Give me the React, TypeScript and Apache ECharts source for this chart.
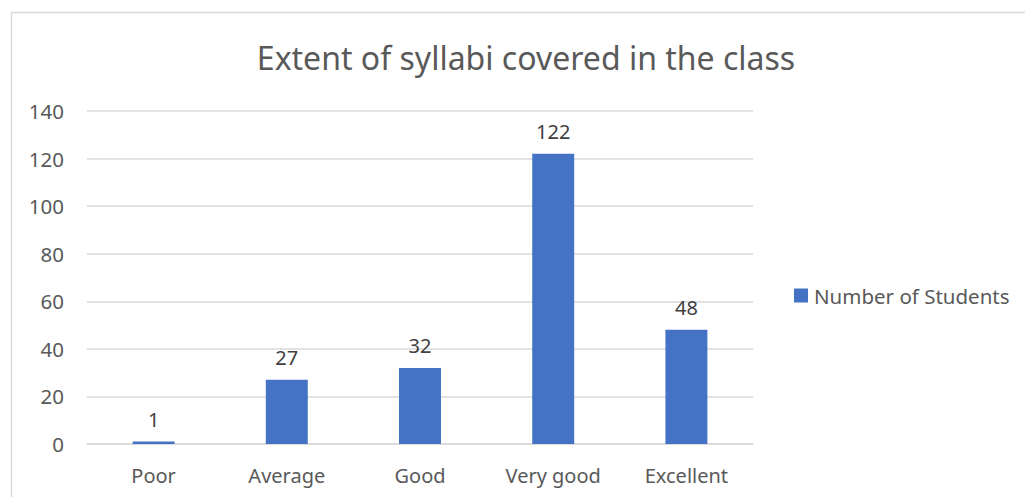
import React, { useEffect, useRef } from "react";
import * as echarts from "echarts";

const categories = ["Poor", "Average", "Good", "Very good", "Excellent"];
const studentCounts = [1, 27, 32, 122, 48];
const seriesName = "Number of Students";
const titleText = "Extent of syllabi covered in the class";
const yMin = 0;
const yMax = 140;
const yStep = 20;

const FONT = "'Noto Sans', sans-serif";

export default function App() {
  const ref = useRef<HTMLDivElement>(null);
  useEffect(() => {
    if (!ref.current) return;
    const chart = echarts.init(ref.current, null, { renderer: "svg" });
    chart.setOption({
      animation: false,
      backgroundColor: "#ffffff",
      textStyle: { fontFamily: FONT },
      title: {
        text: titleText,
        left: 521,
        textAlign: "center",
        top: 36,
        textStyle: { fontFamily: FONT, fontSize: 32, fontWeight: "normal", color: "#595959" },
      },
      graphic: [
        {
          type: "rect",
          shape: { x: 11.5, y: 12.5, width: 1030, height: 500 },
          style: { fill: "none", stroke: "#d9d9d9", lineWidth: 1.5 },
          silent: true,
        },
      ],
      legend: {
        data: [seriesName],
        left: 789,
        top: 280,
        itemWidth: 14,
        itemHeight: 14,
        itemGap: 6,
        icon: "rect",
        textStyle: { fontFamily: FONT, fontSize: 20.5, color: "#595959", padding: [0, 0, 0, 1] },
      },
      grid: { left: 87, right: 272, top: 111, bottom: 53, containLabel: false },
      xAxis: {
        type: "category",
        data: categories,
        axisTick: { show: false },
        axisLine: { lineStyle: { color: "#d9d9d9", width: 1.5 } },
        axisLabel: { fontFamily: FONT, fontSize: 20, color: "#595959", margin: 21 },
      },
      yAxis: {
        type: "value",
        min: yMin,
        max: yMax,
        interval: yStep,
        axisLine: { show: false },
        axisTick: { show: false },
        splitLine: { lineStyle: { color: "#d9d9d9", width: 1.5 } },
        axisLabel: { fontFamily: FONT, fontSize: 20.5, color: "#595959", margin: 23 },
      },
      series: [
        {
          name: seriesName,
          type: "bar",
          data: studentCounts,
          barWidth: "31.5%",
          itemStyle: { color: "#4472C4" },
          label: {
            show: true,
            position: "top",
            distance: 12,
            fontFamily: FONT,
            fontSize: 20,
            color: "#404040",
          },
        },
      ],
    });
    return () => chart.dispose();
  }, []);
  return (
    <div
      ref={ref}
      style={{ position: "fixed", left: 0, top: 0, width: 1025, height: 497 }}
    />
  );
}
